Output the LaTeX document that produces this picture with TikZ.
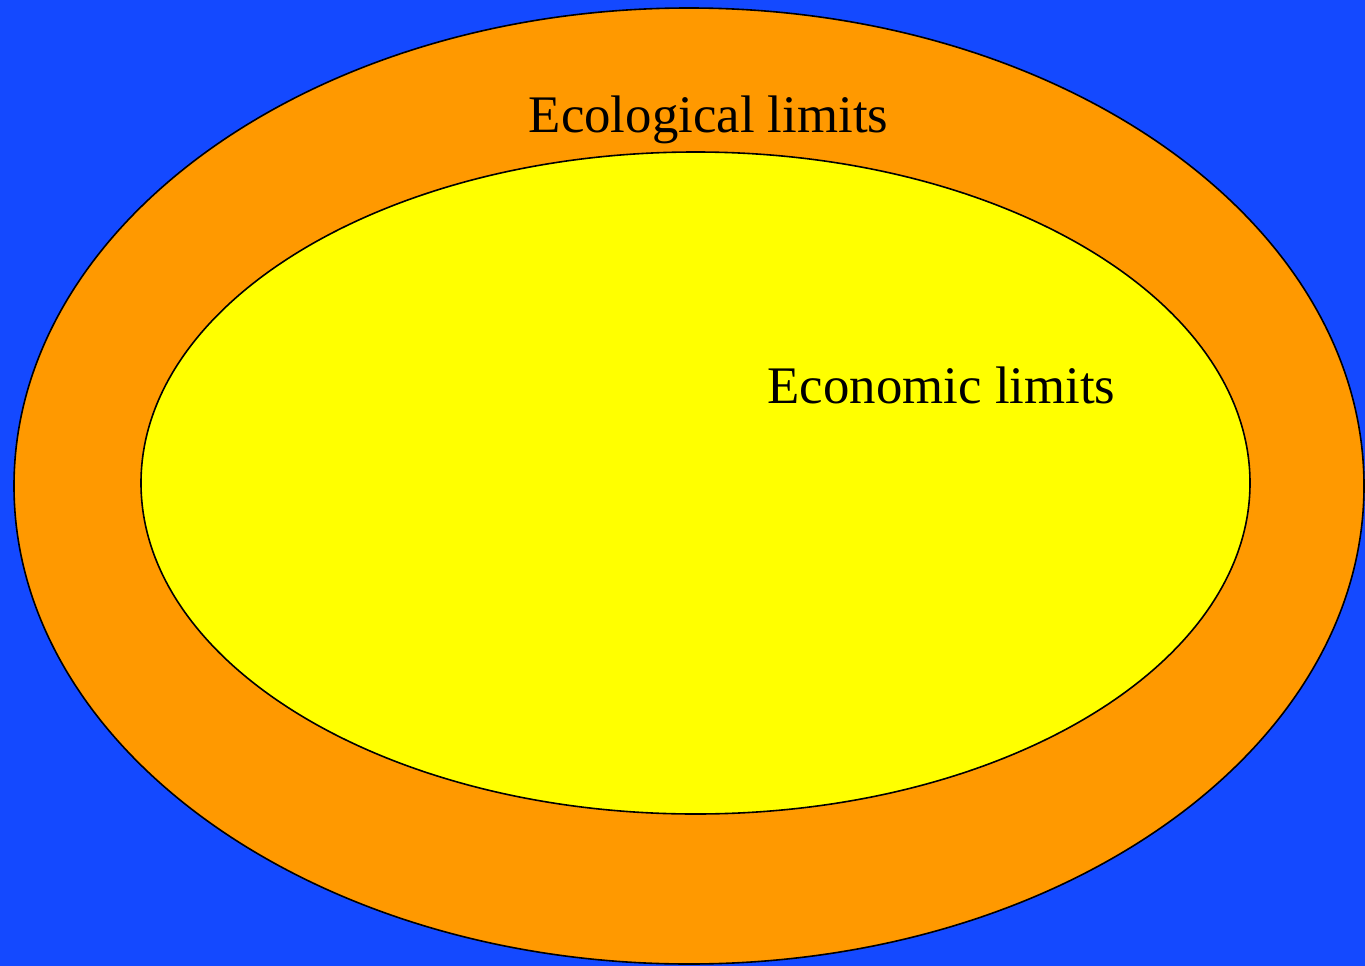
\documentclass[tikz,border=0pt]{standalone}
\usepackage{fontspec}
\setmainfont{Liberation Serif}
\definecolor{bgblue}{RGB}{20,73,255}
\definecolor{ringorange}{RGB}{255,153,0}
\definecolor{coreyellow}{RGB}{255,255,0}
\begin{document}
\begin{tikzpicture}[x=1pt,y=-1pt,
  limitshape/.style={draw=black,line width=1.6pt},
  labeltext/.style={inner sep=0pt,anchor=base,font=\fontsize{52.8}{62}\selectfont}]
\useasboundingbox (0,0) rectangle (1365,966);
\fill[bgblue] (0,0) rectangle (1365,966);
\draw[limitshape,fill=ringorange] (689,486) ellipse [x radius=675, y radius=478];
\draw[limitshape,fill=coreyellow] (695.5,483) ellipse [x radius=554.5, y radius=331];
\node[labeltext] (eco) at (708.5,132) {Ecological limits};
\node[labeltext] (econ) at (941.5,403) {Economic limits};
\end{tikzpicture}
\end{document}
